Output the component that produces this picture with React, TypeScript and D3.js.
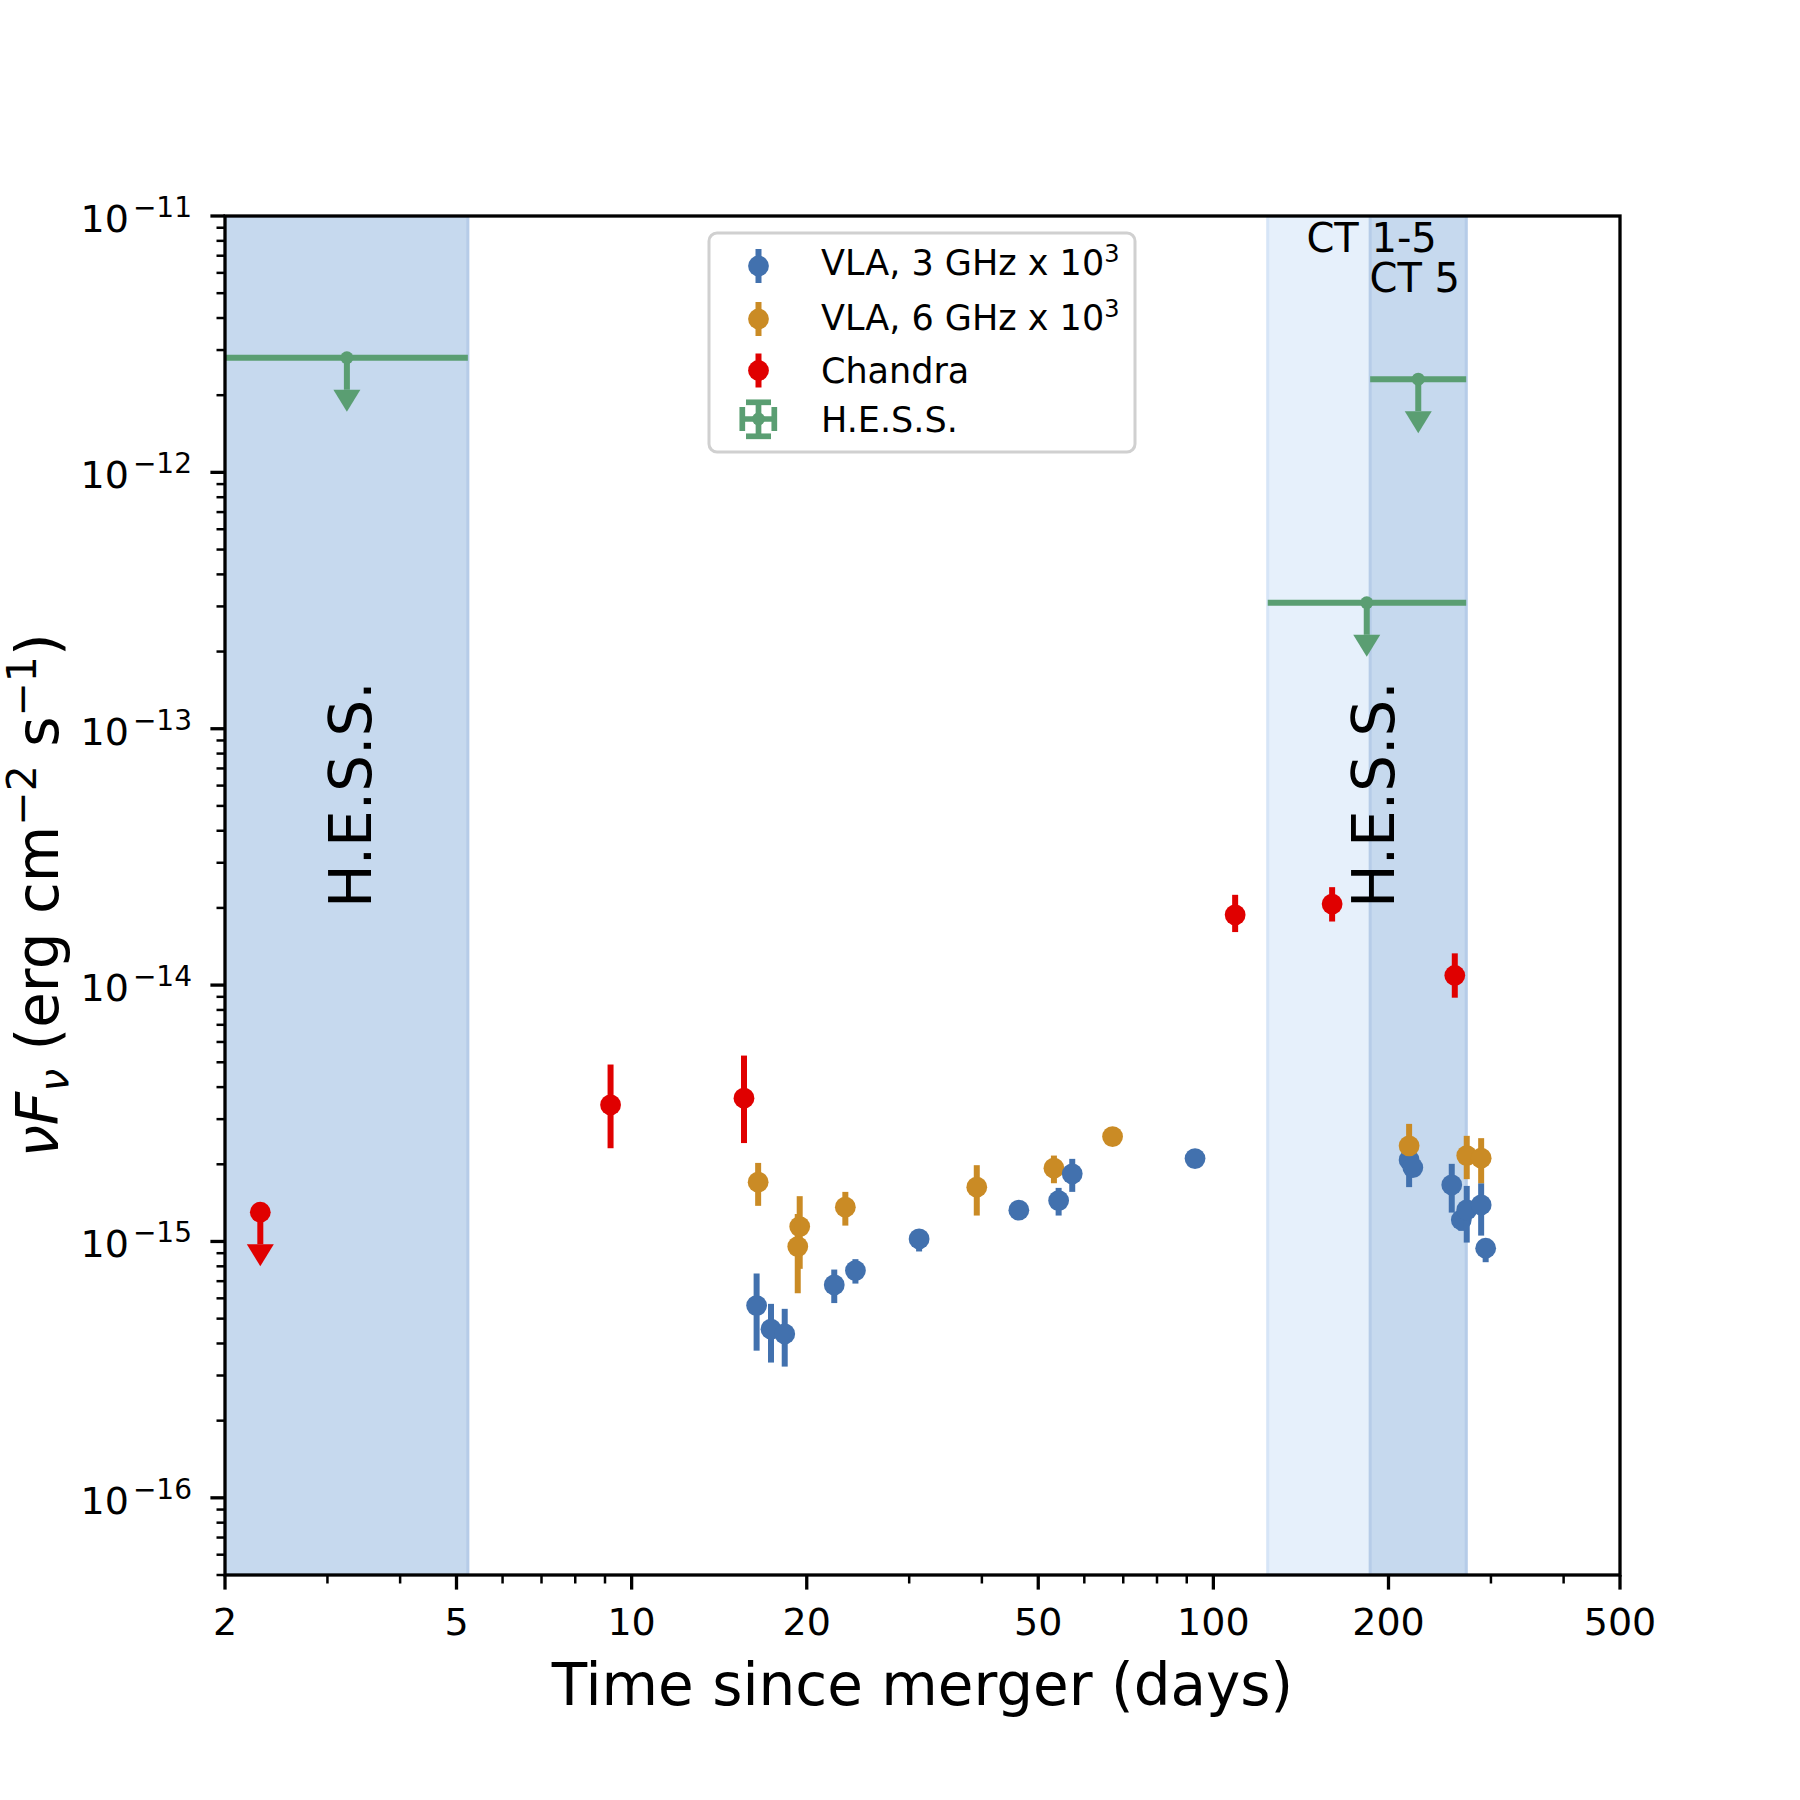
import React from 'react';
import * as d3 from 'd3';

// ---------------- data ----------------
// VLA 3 GHz (x 1e3)
const vla3T = [16.4, 17.36, 18.33, 22.3, 24.25, 31.2, 46.3, 54.2, 57.2, 93.0, 217, 220.2, 256.9, 266.8, 272.6, 288.6, 293.8];
const vla3F = [5.62e-16, 4.55e-16, 4.36e-16, 6.77e-16, 7.7e-16, 1.023e-15, 1.324e-15, 1.444e-15, 1.835e-15, 2.105e-15, 2.08e-15, 1.941e-15, 1.663e-15, 1.214e-15, 1.328e-15, 1.389e-15, 9.41e-16];
const vla3Lo = [3.75e-16, 3.37e-16, 3.25e-16, 5.75e-16, 6.85e-16, 9.14e-16, 1.29e-15, 1.262e-15, 1.561e-15, 2.05e-15, 1.629e-15, 1.88e-15, 1.296e-15, 1.1e-15, 9.9e-16, 1.054e-15, 8.3e-16];
const vla3Hi = [7.5e-16, 5.71e-16, 5.46e-16, 7.77e-16, 8.53e-16, 1.109e-15, 1.36e-15, 1.618e-15, 2.1e-15, 2.16e-15, 2.53e-15, 2.0e-15, 2.008e-15, 1.33e-15, 1.647e-15, 1.687e-15, 1.0e-15];

// VLA 6 GHz (x 1e3)
const vla6T = [16.5, 19.45, 19.3, 23.3, 39.2, 53.2, 67.1, 217, 272.6, 288.6];
const vla6F = [1.703e-15, 1.143e-15, 9.55e-16, 1.361e-15, 1.629e-15, 1.932e-15, 2.565e-15, 2.36e-15, 2.163e-15, 2.113e-15];
const vla6Lo = [1.377e-15, 7.82e-16, 6.28e-16, 1.153e-15, 1.262e-15, 1.687e-15, 2.475e-15, 2.2e-15, 1.75e-15, 1.687e-15];
const vla6Hi = [2.025e-15, 1.502e-15, 1.28e-15, 1.561e-15, 1.984e-15, 2.163e-15, 2.66e-15, 2.875e-15, 2.582e-15, 2.529e-15];

// Chandra
const chT = [2.3, 9.2, 15.6, 109, 160, 260];
const chF = [1.3e-15, 3.41e-15, 3.62e-15, 1.88e-14, 2.07e-14, 1.09e-14];
const chLo = [0.975e-15, 2.31e-15, 2.42e-15, 1.61e-14, 1.77e-14, 8.93e-15];
const chHi = [1.3e-15, 4.9e-15, 5.31e-15, 2.25e-14, 2.41e-14, 1.33e-14];
const chUL = [true, false, false, false, false, false];

// H.E.S.S. upper limits
const hessT = [3.24, 225, 183.5];
const hessTmin = [0.3, 186, 124];
const hessTmax = [5.23, 272, 272];
const hessF = [2.8e-12, 2.31e-12, 3.1e-13];
const ulFrac = 0.75; // arrow end = value * ulFrac

// observation windows
const bandStart = [0.3, 124, 186];
const bandEnd = [5.23, 272, 272];
const bandShade = ['dark', 'light', 'dark'];

// annotations
const annText = ['CT 1-5', 'CT 5'];
const annT = [144.5, 185.5];
const annF = [7.26e-12, 5.04e-12];
const hessLabelT = [3.57, 204];
const hessLabelF = [2.0e-14, 2.0e-14];

const xTicks = [2, 5, 10, 20, 50, 100, 200, 500];
const xMinor = [3, 4, 6, 7, 8, 9, 30, 40, 60, 70, 80, 90, 300, 400];
const yExp = [-16, -15, -14, -13, -12, -11];

// ---------------- style ----------------
const BLUE = '#4271ae';
const ORANGE = '#ca8b25';
const RED = '#e00000';
const GREEN = '#5a9e72';
const DARK = '#c6d9ee';
const LIGHT = '#e6f0fb';
const FONT = 'DejaVu Sans, Verdana, sans-serif';

const L = 225, R = 1620, T = 216, B = 1575;
const x = d3.scaleLog().domain([2, 500]).range([L, R]);
const y = d3.scaleLog().domain([5e-17, 1e-11]).range([B, T]);

const MR = 10.4;
const EW = 6;

function ErrSeries({ t, f, lo, hi, color, idx }: any) {
  return (
    <g>
      {idx.map((i: number) => (
        <g key={i}>
          <line x1={x(t[i])} x2={x(t[i])} y1={y(lo[i])} y2={y(hi[i])} stroke={color} strokeWidth={EW} />
          <circle cx={x(t[i])} cy={y(f[i])} r={MR} fill={color} />
        </g>
      ))}
    </g>
  );
}

function Arrow({ cx, cy, color }: any) {
  const yEnd = y(y.invert(cy) * ulFrac);
  return (
    <g>
      <line x1={cx} x2={cx} y1={cy} y2={yEnd} stroke={color} strokeWidth={EW} />
      <path d={`M${cx - 13.5},${yEnd} L${cx + 13.5},${yEnd} L${cx},${yEnd + 22} Z`} fill={color} />
    </g>
  );
}

export default function App() {
  const yMinor: number[] = [];
  for (let e = -17; e <= -12; e++) {
    for (let m = 2; m <= 9; m++) {
      const v = m * Math.pow(10, e);
      if (v >= 5e-17 && v <= 1e-11) yMinor.push(v);
    }
  }
  const early = (arr: number[]) => arr.map((_, i) => i).filter((i) => arr[i] < 100);
  const late = (arr: number[]) => arr.map((_, i) => i).filter((i) => arr[i] >= 100);

  return (
    <svg width={1800} height={1800} style={{ position: 'absolute', left: 0, top: 0, background: '#fff' }} fontFamily={FONT}>
      <rect x={0} y={0} width={1800} height={1800} fill="#fff" />
      <defs>
        <clipPath id="plot">
          <rect x={L} y={T} width={R - L} height={B - T} />
        </clipPath>
      </defs>
      <g clipPath="url(#plot)">
        {bandStart.map((s, i) => (
          <rect key={i} x={x(s)} y={T} width={x(bandEnd[i]) - x(s)} height={B - T}
            fill={bandShade[i] === 'dark' ? DARK : LIGHT}
            stroke={bandShade[i] === 'dark' ? '#b6cce8' : '#d6e5f7'} strokeWidth={3} />
        ))}
        {hessT.map((t, i) => (
          <g key={i}>
            <line x1={x(hessTmin[i])} x2={x(hessTmax[i])} y1={y(hessF[i])} y2={y(hessF[i])} stroke={GREEN} strokeWidth={EW} />
            <Arrow cx={x(t)} cy={y(hessF[i])} color={GREEN} />
            <circle cx={x(t)} cy={y(hessF[i])} r={6.5} fill={GREEN} />
          </g>
        ))}
      </g>

      {/* text annotations */}
      {hessLabelT.map((t, i) => (
        <text key={i} transform={`translate(${x(t)},${y(hessLabelF[i])}) rotate(-90)`} fontSize={58} fill="#000">H.E.S.S.</text>
      ))}
      {annText.map((s, i) => (
        <text key={i} x={x(annT[i])} y={y(annF[i])} fontSize={40} fill="#000">{s}</text>
      ))}

      {/* data */}
      <ErrSeries t={vla6T} f={vla6F} lo={vla6Lo} hi={vla6Hi} color={ORANGE} idx={early(vla6T)} />
      <ErrSeries t={vla3T} f={vla3F} lo={vla3Lo} hi={vla3Hi} color={BLUE} idx={early(vla3T)} />
      <ErrSeries t={vla3T} f={vla3F} lo={vla3Lo} hi={vla3Hi} color={BLUE} idx={late(vla3T)} />
      <ErrSeries t={vla6T} f={vla6F} lo={vla6Lo} hi={vla6Hi} color={ORANGE} idx={late(vla6T)} />
      {chT.map((t, i) => chUL[i] ? (
        <g key={i}>
          <Arrow cx={x(t)} cy={y(chF[i])} color={RED} />
          <circle cx={x(t)} cy={y(chF[i])} r={MR} fill={RED} />
        </g>
      ) : (
        <g key={i}>
          <line x1={x(t)} x2={x(t)} y1={y(chLo[i])} y2={y(chHi[i])} stroke={RED} strokeWidth={EW} />
          <circle cx={x(t)} cy={y(chF[i])} r={MR} fill={RED} />
        </g>
      ))}

      {/* spines */}
      <rect x={L} y={T} width={R - L} height={B - T} fill="none" stroke="#000" strokeWidth={3.3} />

      {/* x ticks */}
      {xTicks.map((t) => (
        <g key={t}>
          <line x1={x(t)} x2={x(t)} y1={B} y2={B + 14.6} stroke="#000" strokeWidth={3.3} />
          <text x={x(t)} y={1635} fontSize={38} textAnchor="middle">{t}</text>
        </g>
      ))}
      {xMinor.map((t) => (
        <line key={t} x1={x(t)} x2={x(t)} y1={B} y2={B + 8.5} stroke="#000" strokeWidth={2.5} />
      ))}
      {/* y ticks */}
      {yExp.map((e) => {
        const yy = y(Math.pow(10, e));
        return (
          <g key={e}>
            <line x1={L - 14.6} x2={L} y1={yy} y2={yy} stroke="#000" strokeWidth={3.3} />
            <text x={192} y={yy + 16} fontSize={38} textAnchor="end">
              10<tspan fontSize={28} dx={4} dy={-15}>{'\u2212' + Math.abs(e)}</tspan>
            </text>
          </g>
        );
      })}
      {yMinor.map((v, i) => (
        <line key={i} x1={L - 8.5} x2={L} y1={y(v)} y2={y(v)} stroke="#000" strokeWidth={2.5} />
      ))}

      {/* axis labels */}
      <text x={(L + R) / 2} y={1705} fontSize={58} textAnchor="middle">Time since merger (days)</text>
      <text transform={`translate(58,${(T + B) / 2}) rotate(-90)`} fontSize={58} textAnchor="middle">
        <tspan fontStyle="italic">{'\u03bdF'}</tspan>
        <tspan fontStyle="italic" fontSize={41} dy={10}>{'\u03bd'}</tspan>
        <tspan dy={-10}>{' (erg cm'}</tspan>
        <tspan fontSize={41} dy={-22}>{'\u22122'}</tspan>
        <tspan dy={22}>{' s'}</tspan>
        <tspan fontSize={41} dy={-22}>{'\u22121'}</tspan>
        <tspan dy={22}>{')'}</tspan>
      </text>

      {/* legend */}
      <rect x={709} y={233} width={426} height={219} rx={8} fill="#fff" fillOpacity={0.8} stroke="#d0d0d0" strokeWidth={3} />
      {[[266, BLUE], [319, ORANGE], [370.5, RED]].map(([cy, c]: any, i) => (
        <g key={i}>
          <line x1={758.5} x2={758.5} y1={cy - 17} y2={cy + 17} stroke={c} strokeWidth={EW} />
          <circle cx={758.5} cy={cy} r={MR} fill={c} />
        </g>
      ))}
      <g stroke={GREEN} strokeWidth={5.7}>
        <line x1={742.3} x2={774.3} y1={419} y2={419} />
        <line x1={758.5} x2={758.5} y1={402.3} y2={436.3} />
        <line x1={742.3} x2={742.3} y1={407} y2={431} />
        <line x1={774.3} x2={774.3} y1={407} y2={431} />
        <line x1={746} x2={771} y1={402.3} y2={402.3} />
        <line x1={746} x2={771} y1={436.3} y2={436.3} />
      </g>
      <circle cx={758.5} cy={419} r={6.5} fill={GREEN} />
      <text x={821} y={275} fontSize={35}>VLA, 3 GHz x 10<tspan fontSize={24} dy={-13}>3</tspan></text>
      <text x={821} y={330} fontSize={35}>VLA, 6 GHz x 10<tspan fontSize={24} dy={-13}>3</tspan></text>
      <text x={821} y={383} fontSize={35}>Chandra</text>
      <text x={821} y={432} fontSize={35}>H.E.S.S.</text>
    </svg>
  );
}
